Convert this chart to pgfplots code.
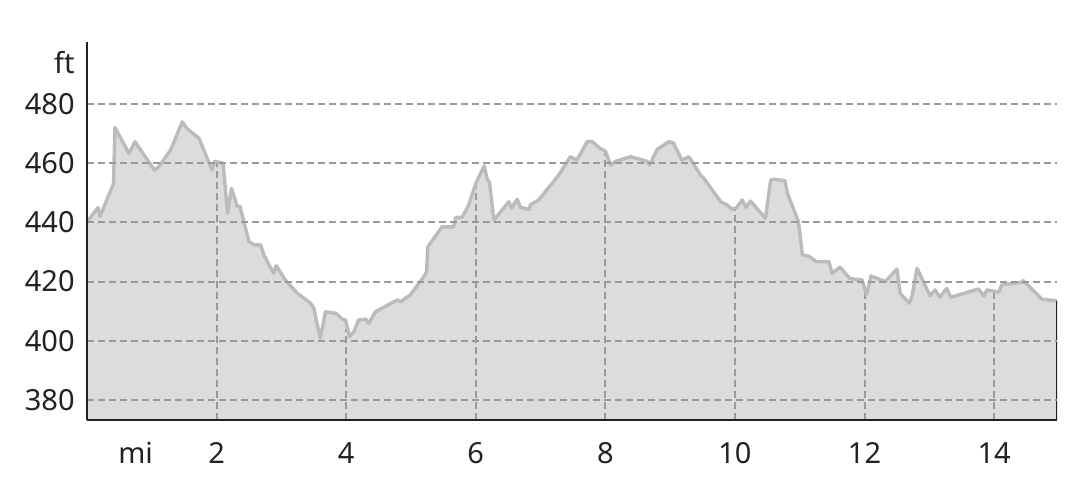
\documentclass[border=0pt]{standalone}
\usepackage{pgfplots}
\pgfplotsset{compat=1.18}
\usepackage{fontspec}
\setmainfont{Noto Sans}
\definecolor{fillc}{HTML}{DCDCDC}
\definecolor{linec}{HTML}{BBBBBB}
\definecolor{gridc}{HTML}{9A9A9A}
\definecolor{axc}{HTML}{222222}
\pgfplotstableread{
x y
0 440.2
0.17 445
0.2 442
0.41 453.2
0.43 472.1
0.65 463.3
0.74 467.3
1.04 457.7
1.11 458.8
1.29 464.5
1.47 474.0
1.54 471.8
1.73 468.4
1.93 457.7
1.97 460.7
2.10 460.0
2.17 443.1
2.23 451.5
2.32 445.3
2.36 445.5
2.50 433.5
2.58 432.4
2.68 432.4
2.73 429
2.88 422.8
2.92 425.4
3.06 420.5
3.25 416
3.45 412.7
3.50 411
3.60 400.8
3.68 409.8
3.84 409.3
3.94 407.3
3.99 407
4.05 401.4
4.12 403.1
4.19 407
4.30 407.3
4.35 405.9
4.45 409.8
4.79 413.8
4.84 413.2
4.99 415.5
5.20 421.7
5.24 423.3
5.26 431.8
5.48 438.5
5.66 438.5
5.69 441.7
5.79 441.7
5.89 445.9
6.00 453.2
6.13 459.1
6.18 454.3
6.21 453.8
6.28 440.8
6.51 447
6.55 444.8
6.64 447.8
6.69 445.1
6.83 444.4
6.84 445.9
6.97 447.6
7.28 456
7.46 462.2
7.56 461.1
7.72 467.3
7.80 467.3
7.92 465
8.00 464.1
8.08 459.4
8.16 460.7
8.39 462.2
8.64 460.7
8.68 459.4
8.80 464.7
8.98 467.3
9.05 466.9
9.18 461.1
9.29 462.2
9.47 456
9.52 454.9
9.78 447
9.88 445.9
9.96 444.4
10.03 445.1
10.11 447.6
10.17 445.1
10.24 447.2
10.47 441.4
10.55 454.3
10.60 454.6
10.77 454.1
10.81 449.8
10.98 440.2
11.04 429
11.14 428.6
11.26 426.7
11.45 426.7
11.50 422.8
11.62 424.9
11.77 421.1
11.85 420.8
11.96 420.6
12.03 415.5
12.10 421.9
12.32 420
12.50 424.2
12.55 416
12.69 412.7
12.73 414.9
12.81 424.5
13.01 415.2
13.09 417.2
13.16 414.7
13.27 417.7
13.33 414.7
13.76 417.5
13.84 415.1
13.89 417.2
14.07 416.4
14.12 418.9
14.43 419.8
14.45 420.3
14.74 414
14.97 413.5
}\profile
\begin{document}
\begin{tikzpicture}
\begin{axis}[
  at={(0,0)}, anchor=south west,
  scale only axis, width=485pt, height=189pt,
  xmin=0, xmax=14.97, ymin=373.2, ymax=501,
  axis lines=left,
  axis line style={-, color=axc, line width=1.3pt},
  xtick={2,4,...,14}, ytick={380,400,...,480},
  major tick length=0pt,
  ymajorgrids,
  major grid style={color=gridc, line width=1pt, dash pattern=on 3.5pt off 2pt},
  axis on top,
  clip mode=individual,
  font=\fontsize{14.5}{16}\selectfont,
  tick label style={font=\fontsize{14.5}{16}\selectfont, color=axc},
  /pgf/number format/assume math mode=true,
  xticklabel style={anchor=center, inner sep=0pt, yshift=-16.5pt},
  yticklabel style={anchor=east, inner sep=0pt, xshift=-6pt},
  vg/.style={color=gridc, line width=1pt, dash pattern=on 3.5pt off 2pt},
]
\addplot[draw=none, fill=fillc] table[x=x,y=y] \profile \closedcycle;
\addplot[vg] coordinates {(2,373.2) (2,460.4)};
\addplot[vg] coordinates {(4,373.2) (4,404)};
\addplot[vg] coordinates {(6,373.2) (6,453.2)};
\addplot[vg] coordinates {(8,373.2) (8,464.1)};
\addplot[vg] coordinates {(10,373.2) (10,444.8)};
\addplot[vg] coordinates {(12,373.2) (12,417.7)};
\addplot[vg] coordinates {(14,373.2) (14,416.7)};
\addplot[color=linec, line width=1.7pt, line join=round] table[x=x,y=y] \profile;
\addplot[color=axc, line width=1.3pt] coordinates {(14.97,413.5) (14.97,373.2)};
\node[anchor=east, inner sep=0pt, xshift=-6pt, color=axc] at (axis cs:0,493.9) {ft};
\node[anchor=center, inner sep=0pt, yshift=-16.5pt, color=axc] at (axis cs:0.75,373.2) {mi};
\end{axis}
\pgfresetboundingbox
\path[use as bounding box] (-43.5pt,-40pt) rectangle (496.5pt,210pt);
\end{tikzpicture}
\end{document}
